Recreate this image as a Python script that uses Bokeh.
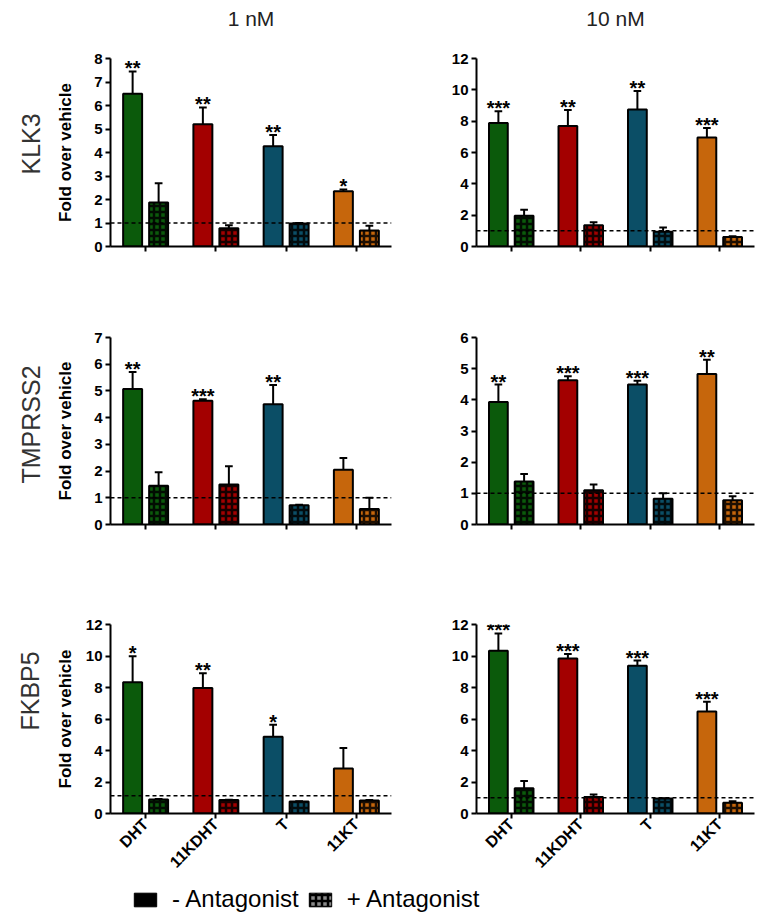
from math import pi
from bokeh.plotting import figure
from bokeh.models import (ColumnDataSource, Range1d, FactorRange, FixedTicker, Span,
                          Title, Legend, LegendItem)
from bokeh.transform import dodge
from bokeh.layouts import column, row
from bokeh.embed import file_html
from bokeh.resources import INLINE
from bokeh.core.properties import value

# ---------------- data ----------------
compounds = ["DHT", "11KDHT", "T", "11KT"]
bar_colors = ["#0b5a0b", "#a30000", "#0b4e66", "#c6660c"]
genes = ["KLK3", "TMPRSS2", "FKBP5"]
doses = ["1 nM", "10 nM"]

# KLK3
klk3_1nm_minus = [6.50, 5.20, 4.27, 2.35]
klk3_1nm_minus_err = [0.95, 0.72, 0.48, 0.08]
klk3_1nm_plus = [1.87, 0.78, 0.98, 0.68]
klk3_1nm_plus_err = [0.82, 0.12, 0.02, 0.20]
klk3_1nm_stars = ["**", "**", "**", "*"]

klk3_10nm_minus = [7.89, 7.69, 8.74, 6.96]
klk3_10nm_minus_err = [0.75, 1.03, 1.18, 0.60]
klk3_10nm_plus = [1.97, 1.35, 0.94, 0.60]
klk3_10nm_plus_err = [0.37, 0.19, 0.28, 0.06]
klk3_10nm_stars = ["***", "**", "**", "***"]

# TMPRSS2
tmprss2_1nm_minus = [5.07, 4.63, 4.50, 2.05]
tmprss2_1nm_minus_err = [0.64, 0.06, 0.72, 0.44]
tmprss2_1nm_plus = [1.45, 1.50, 0.72, 0.58]
tmprss2_1nm_plus_err = [0.51, 0.68, 0.02, 0.42]
tmprss2_1nm_stars = ["**", "***", "**", ""]

tmprss2_10nm_minus = [3.93, 4.63, 4.49, 4.83]
tmprss2_10nm_minus_err = [0.56, 0.13, 0.12, 0.46]
tmprss2_10nm_plus = [1.38, 1.10, 0.83, 0.78]
tmprss2_10nm_plus_err = [0.24, 0.18, 0.17, 0.13]
tmprss2_10nm_stars = ["**", "***", "***", "**"]

# FKBP5
fkbp5_1nm_minus = [8.33, 7.97, 4.88, 2.86]
fkbp5_1nm_minus_err = [1.66, 0.93, 0.76, 1.30]
fkbp5_1nm_plus = [0.89, 0.85, 0.76, 0.83]
fkbp5_1nm_plus_err = [0.03, 0.02, 0.02, 0.02]
fkbp5_1nm_stars = ["*", "**", "*", ""]

fkbp5_10nm_minus = [10.33, 9.84, 9.38, 6.48]
fkbp5_10nm_minus_err = [1.10, 0.28, 0.33, 0.61]
fkbp5_10nm_plus = [1.61, 1.04, 0.95, 0.68]
fkbp5_10nm_plus_err = [0.46, 0.17, 0.02, 0.10]
fkbp5_10nm_stars = ["***", "***", "***", "***"]

# y-axis maxima and tick steps, per gene row: (1 nM, 10 nM)
y_max = [[8, 12], [7, 6], [12, 12]]
y_step = [[1, 2], [1, 1], [2, 2]]
# dashed vehicle reference line level
vehicle_level = [[1.0, 1.0], [1.0, 1.0], [1.13, 1.0]]

panel_data = [
    [(klk3_1nm_minus, klk3_1nm_minus_err, klk3_1nm_plus, klk3_1nm_plus_err, klk3_1nm_stars),
     (klk3_10nm_minus, klk3_10nm_minus_err, klk3_10nm_plus, klk3_10nm_plus_err, klk3_10nm_stars)],
    [(tmprss2_1nm_minus, tmprss2_1nm_minus_err, tmprss2_1nm_plus, tmprss2_1nm_plus_err, tmprss2_1nm_stars),
     (tmprss2_10nm_minus, tmprss2_10nm_minus_err, tmprss2_10nm_plus, tmprss2_10nm_plus_err, tmprss2_10nm_stars)],
    [(fkbp5_1nm_minus, fkbp5_1nm_minus_err, fkbp5_1nm_plus, fkbp5_1nm_plus_err, fkbp5_1nm_stars),
     (fkbp5_10nm_minus, fkbp5_10nm_minus_err, fkbp5_10nm_plus, fkbp5_10nm_plus_err, fkbp5_10nm_stars)],
]

# ---------------- layout / style ----------------
FONT = "Liberation Sans"
FRAME_W = [281, 278]
BORDER_L = [110, 79]
BORDER_R = [6, 2]
FRAME_H = [188, 187, 189]
BORDER_T = [24, 47, 54]          # row 1 sits under a 34px strip holding the dose titles
BORDER_B = [44, 46, 64]
ROW_LABEL_OFFSET = [72, 41, 83]   # start of the rotated gene label above frame bottom (px)
OFF = 0.185
BAR_W = 0.27
CAP = 0.055


def make_panel(r, c):
    minus, minus_err, plus, plus_err, stars = panel_data[r][c]
    p = figure(x_range=FactorRange(*compounds, range_padding=0),
               y_range=Range1d(0, y_max[r][c]),
               frame_width=FRAME_W[c], frame_height=FRAME_H[r],
               min_border_left=BORDER_L[c], min_border_right=BORDER_R[c],
               min_border_top=BORDER_T[r], min_border_bottom=BORDER_B[r],
               output_backend="svg", toolbar_location=None, tools="")
    p.outline_line_color = None
    p.xgrid.visible = False
    p.ygrid.visible = False
    p.background_fill_color = "white"

    src = ColumnDataSource(dict(
        compound=compounds, color=bar_colors,
        minus=minus, minus_top=[v + e for v, e in zip(minus, minus_err)],
        plus=plus, plus_top=[v + e for v, e in zip(plus, plus_err)],
        stars=stars,
    ))

    # error bars (upper only)
    for key, off in (("minus", -OFF), ("plus", OFF)):
        p.segment(x0=dodge("compound", off, range=p.x_range), y0=key,
                  x1=dodge("compound", off, range=p.x_range), y1=key + "_top",
                  source=src, line_color="black", line_width=2)
        p.segment(x0=dodge("compound", off - CAP, range=p.x_range), y0=key + "_top",
                  x1=dodge("compound", off + CAP, range=p.x_range), y1=key + "_top",
                  source=src, line_color="black", line_width=2)

    # bars
    p.vbar(x=dodge("compound", -OFF, range=p.x_range), top="minus", width=BAR_W,
           source=src, fill_color="color", line_color="black", line_width=2)
    p.vbar(x=dodge("compound", OFF, range=p.x_range), top="plus", width=BAR_W,
           source=src, fill_color="color", line_color="black", line_width=2,
           hatch_pattern="cross", hatch_color="black", hatch_scale=6,
           hatch_weight=2.5, hatch_alpha=0.85)

    # significance stars
    p.text(x=dodge("compound", -OFF, range=p.x_range), y="minus_top", text="stars",
           source=src, text_align="center", text_baseline="alphabetic", y_offset=-3,
           text_font=value(FONT), text_font_style="bold", text_font_size="20px",
           text_color="black")

    p.add_layout(Span(location=vehicle_level[r][c], dimension="width",
                      line_color="black", line_width=1.5, line_dash="4 3"))

    # axes
    for ax in (p.xaxis[0], p.yaxis[0]):
        ax.axis_line_width = 2
        ax.axis_line_color = "black"
        ax.major_tick_line_width = 2
        ax.major_tick_in = 0
        ax.major_tick_out = 5
        ax.minor_tick_line_color = None
        ax.major_label_text_font = FONT
        ax.major_label_text_font_style = "bold"
        ax.major_label_text_font_size = "15px"
        ax.major_label_text_color = "black"
    p.yaxis.ticker = FixedTicker(ticks=list(range(0, y_max[r][c] + 1, y_step[r][c])))
    p.yaxis.major_label_standoff = 3
    if c == 0:
        p.yaxis.axis_label = "Fold over vehicle"
        p.yaxis.axis_label_text_font = FONT
        p.yaxis.axis_label_text_font_style = "bold"
        p.yaxis.axis_label_text_font_size = "17px"
        p.yaxis.axis_label_text_color = "black"
        p.yaxis.axis_label_standoff = int(round(24.5 - 8.5 * len(str(y_max[r][c]))))
        p.add_layout(Title(text=genes[r], align="left", offset=ROW_LABEL_OFFSET[r],
                           standoff=17, text_font=FONT, text_font_size="25px",
                           text_font_style="normal", text_color="#333333"), "left")
    if r < 2:
        p.xaxis.major_label_text_color = None
    else:
        p.xaxis.major_label_orientation = pi / 4
        p.xaxis.major_label_standoff = 3
        p.xaxis.major_label_text_font_size = "16px"
    return p


def make_dose_header(c):
    h = figure(x_range=Range1d(0, 1), y_range=Range1d(0, 1),
               frame_width=FRAME_W[c], frame_height=1,
               min_border_left=BORDER_L[c], min_border_right=BORDER_R[c],
               min_border_top=0, min_border_bottom=0,
               output_backend="svg", toolbar_location=None, tools="",
               x_axis_type=None, y_axis_type=None)
    h.outline_line_color = None
    h.add_layout(Title(text=doses[c], align="center", standoff=8, text_font=FONT,
                       text_font_size="21px", text_font_style="normal",
                       text_color="#222222"), "above")
    return h


header = row(make_dose_header(0), make_dose_header(1))
rows = []
for r in range(3):
    rows.append(row(make_panel(r, 0), make_panel(r, 1)))

# legend strip (dummy renderers sit outside the visible range; only the legend shows)
lg = figure(x_range=Range1d(0, 1), y_range=Range1d(0, 1), frame_width=756, frame_height=34,
            min_border=0, output_backend="svg", toolbar_location=None, tools="",
            x_axis_type=None, y_axis_type=None)
lg.outline_line_color = None
dummy = ColumnDataSource(dict(x=[-5.0], top=[-5.0]))
r_minus = lg.vbar(x="x", top="top", width=0.1, source=dummy, fill_color="black",
                  line_color="black")
r_plus = lg.vbar(x="x", top="top", width=0.1, source=dummy, fill_color="#8a8a8a",
                 line_color="black", hatch_pattern="cross", hatch_color="black",
                 hatch_scale=6, hatch_weight=2.5)
legend = Legend(items=[LegendItem(label="- Antagonist", renderers=[r_minus]),
                       LegendItem(label="+ Antagonist", renderers=[r_plus])],
                orientation="horizontal", location=(131, 0), padding=0, margin=0,
                spacing=7, label_standoff=13, glyph_width=28, glyph_height=17,
                label_text_font=FONT, label_text_font_size="24px",
                label_text_color="black", border_line_color=None,
                background_fill_alpha=0)
lg.add_layout(legend)

layout = column(header, *rows, lg)
open("out.html", "w").write(file_html(layout, INLINE))
